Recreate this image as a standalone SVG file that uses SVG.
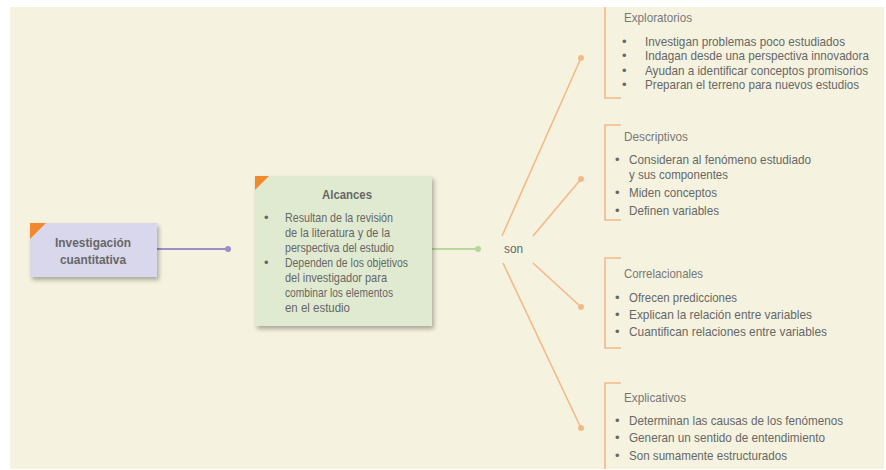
<svg xmlns="http://www.w3.org/2000/svg" width="886" height="470" viewBox="0 0 886 470">
<defs>
<filter id="sh" x="-10%" y="-10%" width="130%" height="130%">
<feDropShadow dx="2" dy="3" stdDeviation="2" flood-color="#000" flood-opacity="0.3"/>
</filter>
</defs>
<style>
text{font-family:"Liberation Sans",Arial,sans-serif;fill:#676767;font-size:13px}
.b{font-weight:bold}
.t{fill:#787878}
.s{font-size:12.4px}
.o{stroke:#f4b98a;stroke-width:1.6;fill:none}
.dot{fill:#f4b98a}
</style>
<rect x="0" y="0" width="886" height="470" fill="#fff"/>
<rect x="10" y="7" width="874" height="462" fill="#f5f3df"/>

<g id="connectors">
<line x1="157" y1="249" x2="228" y2="249" stroke="#9a8fc8" stroke-width="2"/>
<circle cx="228" cy="249" r="3" fill="#9a8fc8"/>
<line x1="432" y1="249" x2="478" y2="249" stroke="#b8d69e" stroke-width="2"/>
<circle cx="478" cy="249" r="3" fill="#b8d69e"/>
<line class="o" x1="502" y1="236" x2="581" y2="58"/>
<circle class="dot" cx="581" cy="58" r="3"/>
<line class="o" x1="533" y1="236" x2="581" y2="179"/>
<circle class="dot" cx="581" cy="179" r="3"/>
<line class="o" x1="533" y1="263" x2="581" y2="307"/>
<circle class="dot" cx="581" cy="307" r="3"/>
<line class="o" x1="503" y1="263" x2="581" y2="428"/>
<circle class="dot" cx="581" cy="428" r="3"/>
</g>

<g id="investigacion">
<rect x="30" y="223" width="127" height="54" fill="#d8d7ec" filter="url(#sh)"/>
<polygon points="30,223 46,223 30,239" fill="#f08a2c"/>
<text class="b" x="55" y="247" textLength="76" lengthAdjust="spacingAndGlyphs">Investigación</text>
<text class="b" x="60" y="264" textLength="66" lengthAdjust="spacingAndGlyphs">cuantitativa</text>
</g>

<g id="alcances">
<rect x="255" y="176" width="177" height="150" fill="#e0ead0" filter="url(#sh)"/>
<polygon points="255,176 269,176 255,190" fill="#f08a2c"/>
<text class="b" x="322" y="199" textLength="50" lengthAdjust="spacingAndGlyphs">Alcances</text>
<text x="264" y="222">•</text><text x="285" y="222" textLength="108" lengthAdjust="spacingAndGlyphs">Resultan de la revisión</text>
<text x="285" y="237" textLength="105" lengthAdjust="spacingAndGlyphs">de la literatura y de la</text>
<text x="285" y="252" textLength="109" lengthAdjust="spacingAndGlyphs">perspectiva del estudio</text>
<text x="264" y="267">•</text><text x="285" y="267" textLength="123" lengthAdjust="spacingAndGlyphs">Dependen de los objetivos</text>
<text x="285" y="282" textLength="102" lengthAdjust="spacingAndGlyphs">del investigador para</text>
<text x="285" y="297" textLength="108" lengthAdjust="spacingAndGlyphs">combinar los elementos</text>
<text x="285" y="312" textLength="65" lengthAdjust="spacingAndGlyphs">en el estudio</text>
</g>

<g id="son">
<text x="504" y="253" textLength="19" lengthAdjust="spacingAndGlyphs">son</text>
</g>

<g id="exploratorios">
<polyline class="o" points="605,7 605,98 621,98"/>
<text class="t" x="624" y="22" textLength="68" lengthAdjust="spacingAndGlyphs">Exploratorios</text>
<text x="622" y="46">•</text><text class="s" x="645" y="46" textLength="200" lengthAdjust="spacingAndGlyphs">Investigan problemas poco estudiados</text>
<text x="622" y="60">•</text><text class="s" x="645" y="60" textLength="224" lengthAdjust="spacingAndGlyphs">Indagan desde una perspectiva innovadora</text>
<text x="622" y="75">•</text><text class="s" x="645" y="75" textLength="223" lengthAdjust="spacingAndGlyphs">Ayudan a identificar conceptos promisorios</text>
<text x="622" y="89">•</text><text class="s" x="645" y="89" textLength="214" lengthAdjust="spacingAndGlyphs">Preparan el terreno para nuevos estudios</text>
</g>

<g id="descriptivos">
<polyline class="o" points="621,125 605,125 605,220 621,220"/>
<text class="t" x="624" y="141" textLength="64" lengthAdjust="spacingAndGlyphs">Descriptivos</text>
<text x="615" y="164">•</text><text x="629" y="164" textLength="182" lengthAdjust="spacingAndGlyphs">Consideran al fenómeno estudiado</text>
<text x="629" y="179" textLength="99" lengthAdjust="spacingAndGlyphs">y sus componentes</text>
<text x="615" y="197">•</text><text x="629" y="197" textLength="88" lengthAdjust="spacingAndGlyphs">Miden conceptos</text>
<text x="615" y="215">•</text><text x="629" y="215" textLength="90" lengthAdjust="spacingAndGlyphs">Definen variables</text>
</g>

<g id="correlacionales">
<polyline class="o" points="621,258 605,258 605,348 621,348"/>
<text class="t" x="624" y="278" textLength="79" lengthAdjust="spacingAndGlyphs">Correlacionales</text>
<text x="615" y="302">•</text><text x="629" y="302" textLength="108" lengthAdjust="spacingAndGlyphs">Ofrecen predicciones</text>
<text x="615" y="319">•</text><text x="629" y="319" textLength="183" lengthAdjust="spacingAndGlyphs">Explican la relación entre variables</text>
<text x="615" y="336">•</text><text x="629" y="336" textLength="198" lengthAdjust="spacingAndGlyphs">Cuantifican relaciones entre variables</text>
</g>

<g id="explicativos">
<polyline class="o" points="621,383 605,383 605,469"/>
<text class="t" x="624" y="402" textLength="62" lengthAdjust="spacingAndGlyphs">Explicativos</text>
<text x="615" y="425">•</text><text x="629" y="425" textLength="214" lengthAdjust="spacingAndGlyphs">Determinan las causas de los fenómenos</text>
<text x="615" y="442">•</text><text x="629" y="442" textLength="196" lengthAdjust="spacingAndGlyphs">Generan un sentido de entendimiento</text>
<text x="615" y="460">•</text><text x="629" y="460" textLength="158" lengthAdjust="spacingAndGlyphs">Son sumamente estructurados</text>
</g>
</svg>
